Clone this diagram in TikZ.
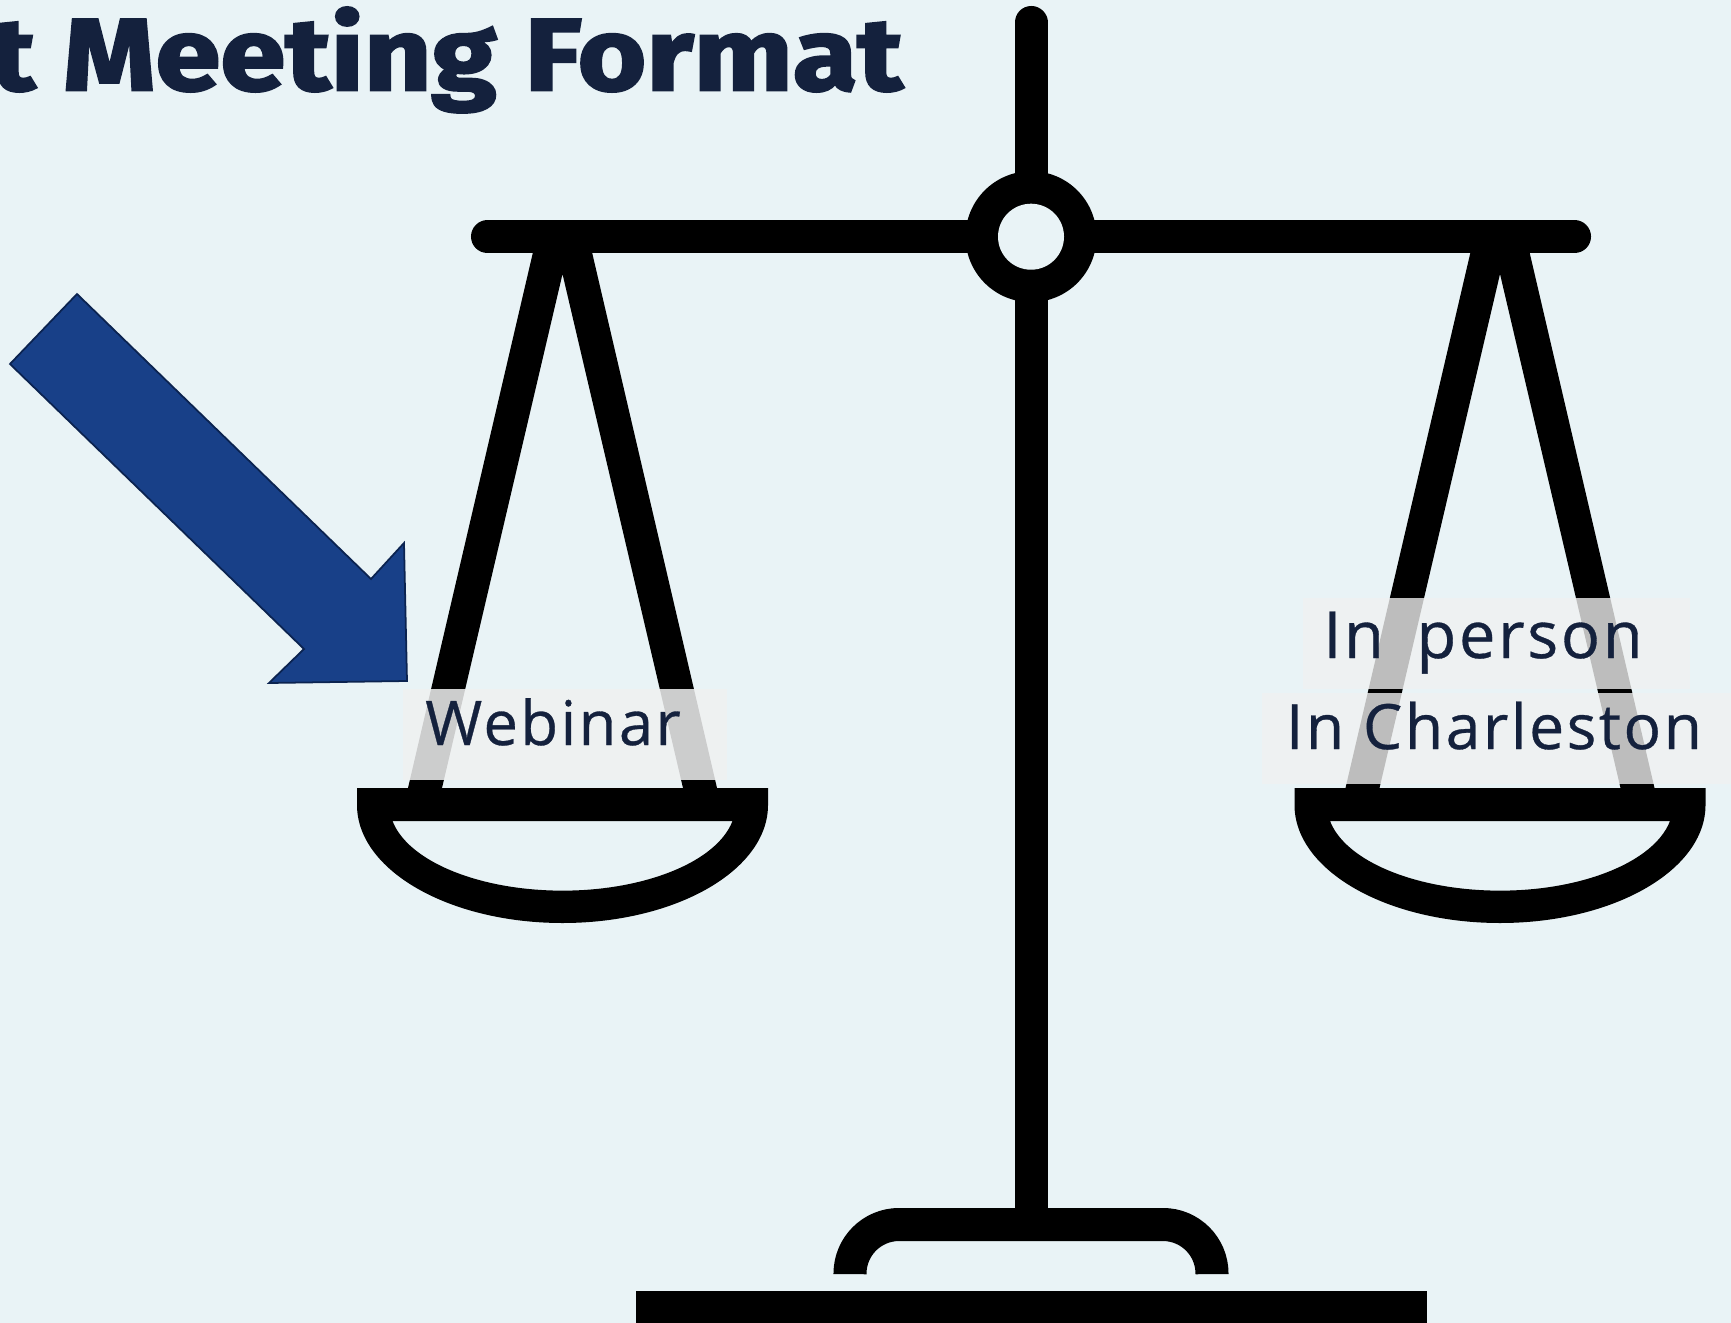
\documentclass[tikz,border=0pt]{standalone}
\usepackage{fontspec}
\setmainfont[LetterSpace=4, FakeBold=0.5]{Open Sans}
\newfontfamily\titlefont[UprightFeatures={FakeBold=2.5, FakeStretch=1.153}, UprightFont=*-Bold]{Fira Sans}
\usepackage{xcolor}
\usetikzlibrary{positioning}
\definecolor{pagebg}{HTML}{E9F3F6}
\definecolor{navy}{HTML}{14213D}
\definecolor{arrowblue}{HTML}{184088}
\definecolor{arrowedge}{HTML}{0B2350}
\definecolor{boxgrey}{HTML}{F0F1F1}
\tikzset{
    bar/.style={line width=0.66cm, black},
    optionbox/.style={fill=boxgrey, fill opacity=#1},
    optionlabel/.style={text=navy, inner sep=0pt, anchor=base, font=\fontsize{#1}{#1}\selectfont},
}

\begin{document}
\begin{tikzpicture}[x=0.5665bp, y=-0.5665bp]
    \useasboundingbox (0, 0) rectangle (1731, 1323);
    \clip (0, 0) rectangle (1731, 1323);
    \fill[pagebg] (0, 0) rectangle (1731, 1323);

    \node[text=navy, inner sep=0pt, anchor=base east, font=\titlefont\fontsize{58}{58}\selectfont] (title) at (903, 90) {t Meeting Format};

    % stand
    \draw[bar, line cap=round] (1031, 22.5) -- (1031, 40);
    \draw[bar] (1031, 30) -- (1031, 1224);
    \draw[bar, line cap=round] (487.5, 236.7) -- (1574.5, 236.7);
    \draw[bar, rounded corners=0.98cm] (850, 1274) -- (850, 1224.5) -- (1212, 1224.5) -- (1212, 1274);
    \fill[black] (636, 1291) rectangle (1427, 1323);
    \fill[black] (1031, 236.7) circle[radius=65.5];
    \fill[pagebg] (1031, 236.7) circle[radius=33];

    % both pans
    \foreach \panx in {562.5, 1500} {
        \fill[black] ({\panx-154.5}, 788) -- ({\panx-29}, 250) -- ({\panx+29}, 250) -- ({\panx+154.5}, 788)
            -- ({\panx+120.5}, 788) -- (\panx, 274) -- ({\panx-120.5}, 788) -- cycle;
        \fill[black, even odd rule] ({\panx-205.5}, 788) -- ({\panx+205.5}, 788) -- ({\panx+205.5}, 805)
            arc[start angle=0, end angle=180, x radius=205.5, y radius=118] -- cycle
            ({\panx-170}, 821) -- ({\panx+170}, 821)
            arc[start angle=10.7, end angle=169.3, x radius=173, y radius=85.5] -- cycle;
    }

    \fill[optionbox=0.85] (403, 689) rectangle (727, 780);
    \fill[optionbox=0.79] (1303, 598) rectangle (1690, 689);
    \fill[optionbox=0.79] (1262, 693) rectangle (1731, 784);
    \node[optionlabel=35] (webinar) at (553, 745) {Webinar};
    \node[optionlabel=37] (inperson) at (1483, 658) {In\hspace{0.2em} person};
    \node[optionlabel=35.5] (charleston) at (1494, 749) {In Charleston};

    \draw[fill=arrowblue, draw=arrowedge, line width=1pt, line join=miter]
        (77, 294) -- (10, 364) -- (304, 649) -- (269, 683) -- (407, 681) -- (404, 543) -- (371, 579) -- cycle;
\end{tikzpicture}
\end{document}
